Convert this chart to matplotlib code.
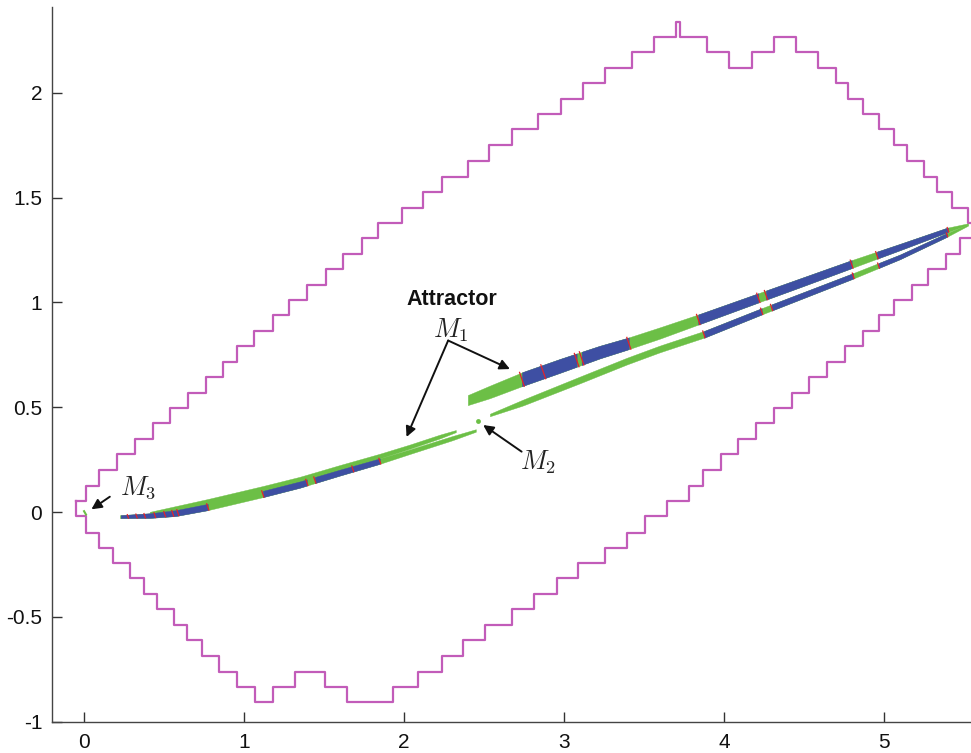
import numpy as np
import matplotlib.pyplot as plt

plt.rcParams['axes.unicode_minus'] = False
plt.rcParams['mathtext.fontset'] = 'cm'
plt.rcParams['font.family'] = ['Liberation Sans', 'DejaVu Sans']

# staircase outline of the covering boxes (step corners, drawn with steps-pre)
box_x = [-0.048, 0.011, 0.094, 0.206, 0.317, 0.431, 0.536, 0.650, 0.759, 0.869,
         0.953, 1.063, 1.178, 1.281, 1.396, 1.509, 1.619, 1.734, 1.838, 1.984,
         2.119, 2.234, 2.396, 2.531, 2.675, 2.838, 2.979, 3.115, 3.254, 3.425,
         3.561, 3.698, 3.723, 3.890, 4.029, 4.171, 4.311, 4.446, 4.584, 4.696,
         4.775, 4.865, 4.969, 5.061, 5.140, 5.250, 5.328, 5.421, 5.525, 5.600,
         5.473, 5.386, 5.275, 5.171, 5.061, 4.969, 4.865, 4.754, 4.640, 4.531,
         4.421, 4.311, 4.198, 4.088, 3.977, 3.865, 3.779, 3.644, 3.504, 3.390,
         3.256, 3.088, 2.953, 2.811, 2.675, 2.504, 2.369, 2.234, 2.088, 1.928,
         1.646, 1.504, 1.317, 1.178, 1.067, 0.953, 0.842, 0.738, 0.646, 0.563,
         0.453, 0.373, 0.286, 0.178, 0.094, 0.011, -0.048, -0.048]
box_y = [0.051, 0.051, 0.125, 0.200, 0.275, 0.347, 0.423, 0.495, 0.569, 0.642,
         0.718, 0.791, 0.865, 0.940, 1.011, 1.083, 1.157, 1.231, 1.306, 1.381,
         1.451, 1.528, 1.600, 1.676, 1.751, 1.826, 1.897, 1.970, 2.045, 2.120,
         2.193, 2.268, 2.339, 2.268, 2.193, 2.120, 2.193, 2.268, 2.193, 2.120,
         2.045, 1.970, 1.897, 1.826, 1.751, 1.676, 1.600, 1.528, 1.451, 1.381,
         1.306, 1.231, 1.157, 1.083, 1.011, 0.940, 0.865, 0.791, 0.718, 0.642,
         0.569, 0.495, 0.423, 0.347, 0.275, 0.200, 0.125, 0.051, -0.018, -0.099,
         -0.170, -0.242, -0.316, -0.391, -0.463, -0.539, -0.611, -0.687, -0.762, -0.833,
         -0.908, -0.833, -0.762, -0.833, -0.908, -0.833, -0.762, -0.687, -0.611, -0.539,
         -0.463, -0.391, -0.316, -0.242, -0.170, -0.099, -0.018, 0.051]

# attractor branches: centre line and half thickness
up_x = [2.398, 2.536, 2.742, 2.973, 3.223, 3.392, 3.598, 3.848, 4.211, 4.473, 4.798, 5.098, 5.392, 5.523]
up_y = [0.534, 0.573, 0.635, 0.697, 0.763, 0.802, 0.854, 0.921, 1.021, 1.093, 1.183, 1.264, 1.345, 1.374]
up_w = [0.024, 0.030, 0.033, 0.033, 0.030, 0.028, 0.027, 0.024, 0.022, 0.021, 0.019, 0.015, 0.011, 0.003]
up_blue = [(2.736, 3.078), (3.109, 3.404), (3.838, 4.213), (4.261, 4.796), (4.954, 5.398)]
up_red = [2.736, 2.869, 3.078, 3.109, 3.404, 3.838, 4.213, 4.261, 4.796, 4.954, 5.398]

lo_x = [2.536, 2.742, 3.098, 3.392, 3.598, 3.879, 4.223, 4.804, 5.098, 5.392, 5.523]
lo_y = [0.463, 0.522, 0.630, 0.720, 0.778, 0.849, 0.954, 1.126, 1.217, 1.322, 1.369]
lo_w = [0.006, 0.014, 0.016, 0.016, 0.016, 0.016, 0.015, 0.013, 0.011, 0.009, 0.003]
lo_blue = [(3.873, 4.234), (4.296, 4.806), (4.964, 5.392)]
lo_red = [3.873, 4.234, 4.296, 4.806, 4.964, 5.392]

ll_x = [0.224, 0.411, 0.573, 0.773, 1.117, 1.348, 1.598, 1.848, 2.036, 2.304, 2.448]
ll_y = [-0.022, -0.017, -0.005, 0.024, 0.086, 0.131, 0.188, 0.243, 0.288, 0.353, 0.389]
ll_w = [0.007, 0.011, 0.014, 0.015, 0.015, 0.015, 0.014, 0.013, 0.011, 0.010, 0.006]
ll_blue = [(0.229, 0.773), (1.117, 1.392), (1.442, 1.848)]
ll_red = [0.274, 0.328, 0.379, 0.442, 0.504, 0.554, 0.586, 0.773, 1.117, 1.392, 1.442, 1.679, 1.848]

lu_x = [0.411, 0.773, 1.117, 1.348, 1.598, 1.848, 2.036, 2.223, 2.323]
lu_y = [-0.005, 0.048, 0.110, 0.155, 0.212, 0.267, 0.312, 0.360, 0.386]
lu_w = [0.006, 0.014, 0.014, 0.013, 0.012, 0.011, 0.010, 0.009, 0.005]

green = '#6cbf46'
blue = '#3e4fa3'
red = '#e3232b'


def draw_band(ax, x, y, w, color, a=None, b=None):
    a = x[0] if a is None else a
    b = x[-1] if b is None else b
    xs = np.linspace(a, b, 120)
    yc = np.interp(xs, x, y)
    hw = np.interp(xs, x, w)
    ax.fill_between(xs, yc - hw, yc + hw, color=color, lw=0.3, edgecolor=color, zorder=3)


def draw_marks(ax, x, y, w, marks):
    for m in marks:
        yc = np.interp(m, x, y)
        hw = np.interp(m, x, w)
        s = 0.45 * hw
        ax.plot([m - s, m + s], [yc + hw, yc - hw], color=red, lw=0.9, zorder=5)


fig = plt.figure(figsize=(9.71, 7.53), dpi=100)
ax = fig.add_axes([0.0536, 0.0416, 0.9464, 0.9494])

ax.plot(box_x, box_y, drawstyle='steps-pre', color='#c25cb9', lw=1.6, zorder=2)

draw_band(ax, lu_x, lu_y, lu_w, green)
draw_band(ax, ll_x, ll_y, ll_w, green)
for a, b in ll_blue:
    draw_band(ax, ll_x, ll_y, ll_w, blue, a, b)
draw_marks(ax, ll_x, ll_y, ll_w, ll_red)

draw_band(ax, lo_x, lo_y, lo_w, green)
for a, b in lo_blue:
    draw_band(ax, lo_x, lo_y, lo_w, blue, a, b)
draw_marks(ax, lo_x, lo_y, lo_w, lo_red)

draw_band(ax, up_x, up_y, up_w, green)
for a, b in up_blue:
    draw_band(ax, up_x, up_y, up_w, blue, a, b)
draw_marks(ax, up_x, up_y, up_w, up_red)

# fixed points M2 and M3
ax.plot([2.463], [0.433], 'o', ms=3.5, color=green, mec='none', zorder=4)
ax.plot([0.0, 0.012], [0.004, -0.012], color=green, lw=1.5, zorder=4)

arrow = dict(arrowstyle='-|>', color='#111111', lw=1.4, mutation_scale=15, shrinkA=0, shrinkB=0)
ax.annotate('', xy=(2.661, 0.682), xytext=(2.275, 0.818), arrowprops=arrow, zorder=6)
ax.annotate('', xy=(2.015, 0.358), xytext=(2.275, 0.818), arrowprops=arrow, zorder=6)
ax.annotate('', xy=(2.494, 0.415), xytext=(2.734, 0.288), arrowprops=arrow, zorder=6)
ax.annotate('', xy=(0.046, 0.013), xytext=(0.161, 0.073), arrowprops=arrow, zorder=6)

ax.text(2.301, 1.016, 'Attractor', fontsize=15.5, fontweight='bold', ha='center', va='center', color='#111111')
ax.text(2.288, 0.866, r'$M_1$', fontsize=19, ha='center', va='center', color='#222222')
ax.text(2.836, 0.236, r'$M_2$', fontsize=19, ha='center', va='center', color='#222222')
ax.text(0.336, 0.117, r'$M_3$', fontsize=19, ha='center', va='center', color='#222222')

ax.set_xlim(-0.2, 5.542)
ax.set_ylim(-1, 2.41)
ax.set_xticks([0, 1, 2, 3, 4, 5])
ax.set_yticks([-1, -0.5, 0, 0.5, 1, 1.5, 2])
ax.set_yticklabels(['-1', '-0.5', '0', '0.5', '1', '1.5', '2'])
ax.tick_params(direction='in', length=7, width=1, colors='#333333', labelsize=15, labelcolor='#111111')
ax.tick_params(axis='x', pad=8)
ax.tick_params(axis='y', pad=7)
for side in ['top', 'right']:
    ax.spines[side].set_visible(False)
for side in ['left', 'bottom']:
    ax.spines[side].set_color('#444444')
    ax.spines[side].set_linewidth(1.0)

fig.savefig('out.png', dpi=100)
